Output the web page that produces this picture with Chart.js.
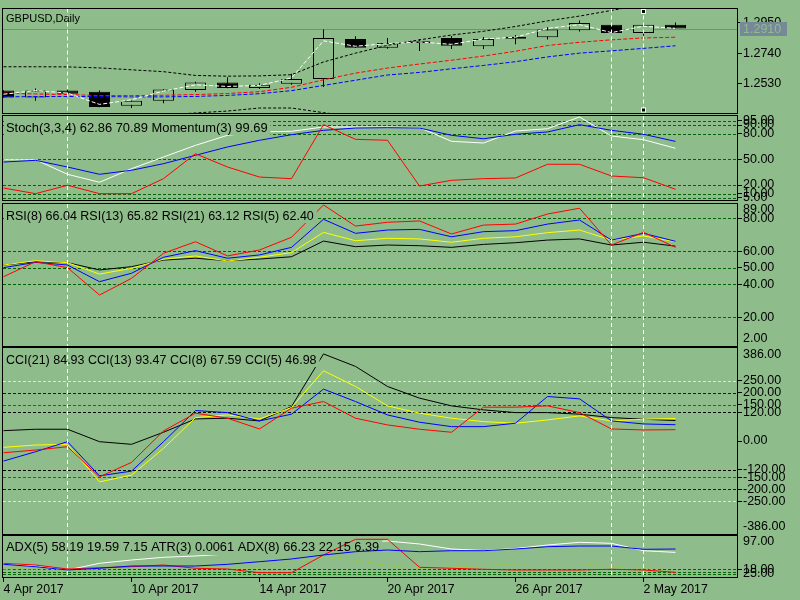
<!DOCTYPE html>
<html>
<head>
<meta charset="utf-8">
<script src="https://cdn.jsdelivr.net/npm/chart.js@4.4.1/dist/chart.umd.min.js"></script>
<style>
html,body{margin:0;padding:0;width:800px;height:600px;overflow:hidden;background:rgb(143,188,139);}
canvas{position:absolute;left:0;top:0;}
</style>
</head>
<body>
<canvas id="cPrice" width="800" height="600"></canvas>
<canvas id="cStoch" width="800" height="600"></canvas>
<canvas id="cRsi" width="800" height="600"></canvas>
<canvas id="cCci" width="800" height="600"></canvas>
<canvas id="cAdx" width="800" height="600"></canvas>
<script>
// ---------------- DATA ----------------
const dateLabels = ['4 Apr 2017','5 Apr 2017','6 Apr 2017','7 Apr 2017','10 Apr 2017','11 Apr 2017','12 Apr 2017','13 Apr 2017','14 Apr 2017','17 Apr 2017','18 Apr 2017','19 Apr 2017','20 Apr 2017','21 Apr 2017','24 Apr 2017','25 Apr 2017','26 Apr 2017','27 Apr 2017','28 Apr 2017','1 May 2017','2 May 2017','3 May 2017'];
const xTickIdx = [0,4,8,12,16,20];
const vlineIdx = [2,19,20];

const open  = [1.2482,1.2434,1.2482,1.2473,1.2377,1.2412,1.2486,1.2537,1.2499,1.2528,1.2561,1.2838,1.2777,1.2810,1.2845,1.2788,1.2854,1.2850,1.2899,1.2937,1.2880,1.2937];
const high  = [1.2484,1.2495,1.2504,1.2482,1.2413,1.2490,1.2543,1.2574,1.2532,1.2598,1.2904,1.2856,1.2845,1.2838,1.2858,1.2852,1.2865,1.2919,1.2965,1.2948,1.2948,1.2952];
const low   = [1.2432,1.2412,1.2458,1.2366,1.2361,1.2394,1.2473,1.2497,1.2493,1.2521,1.2506,1.2775,1.2770,1.2755,1.2768,1.2768,1.2801,1.2834,1.2889,1.2875,1.2860,1.2906];
const close = [1.2434,1.2482,1.2460,1.2368,1.2412,1.2489,1.2537,1.2499,1.2521,1.2561,1.2845,1.2777,1.2810,1.2823,1.2791,1.2838,1.2840,1.2904,1.2948,1.2880,1.2937,1.2910];

const maWhite   = [1.2456,1.2482,1.2464,1.2386,1.2418,1.2478,1.2521,1.2510,1.2517,1.2569,1.2825,1.2788,1.2806,1.2817,1.2801,1.2838,1.2850,1.2911,1.2937,1.2882,1.2926,1.2911];
const bandUpper = [1.2646,1.2646,1.2645,1.2638,1.2625,1.2612,1.2586,1.2581,1.2583,1.2591,1.2679,1.2740,1.2794,1.2832,1.2865,1.2891,1.2924,1.2963,1.2996,1.3035,1.3075,1.3094];
const bandLower = [1.2290,1.2295,1.2300,1.2295,1.2300,1.2312,1.2327,1.2340,1.2361,1.2361,1.2329,1.2300,1.2285,1.2280,1.2282,1.2290,1.2295,1.2300,1.2305,1.2300,1.2295,1.2300];
const maRed     = [1.2464,1.2458,1.2454,1.2447,1.2447,1.2449,1.2454,1.2461,1.2474,1.2504,1.2556,1.2602,1.2637,1.2665,1.2691,1.2720,1.2753,1.2793,1.2815,1.2832,1.2845,1.2850];
const maBlue    = [1.2438,1.2440,1.2441,1.2440,1.2438,1.2438,1.2441,1.2448,1.2460,1.2481,1.2517,1.2553,1.2589,1.2607,1.2632,1.2655,1.2681,1.2714,1.2740,1.2756,1.2773,1.2791];
const priceTicks = [1.2530,1.2740,1.2950];

const stochMain   = [49.5,49.5,32.5,23.2,39.0,52.7,66.3,78.0,81.9,82.7,87.7,87.7,87.7,86.9,71.0,69.0,83.0,85.7,99.4,77.2,72.9,62.86];
const stochSignal = [46.8,48.8,41.0,32.5,37.2,44.9,54.7,64.4,72.2,78.7,83.8,86.5,86.9,86.5,78.0,74.0,79.2,81.9,90.4,83.8,79.2,70.89];
const momentum    = [16.5,9.9,19.7,9.9,9.9,27.4,56.5,41.0,29.3,27.4,90.4,73.3,72.2,18.8,25.5,27.4,28.2,44.2,44.2,30.5,28.5,15.0];
const stochLevels = [95,90,80,50,20,10,5];

const rsi8  = [50.1,53.3,51.7,41.6,46.7,56.4,60.4,55.8,57.8,62.4,79.4,70.9,72.9,73.3,68.8,71.9,72.5,76.5,79.0,66.8,70.9,66.04];
const rsi13 = [51.7,54.3,53.1,46.2,49.7,55.2,57.2,54.1,56.4,59.2,71.5,66.4,67.9,67.5,65.5,67.9,68.8,71.3,72.9,66.8,69.3,65.82];
const rsi21 = [51.7,53.7,53.1,48.7,50.7,54.7,55.8,54.3,55.3,56.7,66.2,62.8,63.8,63.4,62.4,64.2,65.2,66.8,67.5,63.8,65.5,63.12];
const rsi5  = [44.6,53.7,50.1,33.5,43.6,58.8,65.8,57.2,60.8,68.5,88.1,75.3,77.6,78.4,70.5,75.9,76.5,82.6,86.1,63.8,71.5,62.40];
const rsiLevels = [80,60,50,40,20];
const rsiEdge = ['89.00','2.00'];

const cci21 = [42.9,48.8,48.8,-2.9,-13.8,36.3,91.7,94.6,83.3,142.9,361.3,309.6,226.3,177.9,145.8,129.2,117.9,117.9,111.3,97.1,90.4,84.93];
const cci13 = [-26.3,-16.7,-13.8,-169.6,-141.7,-30.4,97.1,108.3,91.7,138.8,291.7,226.3,145.8,115.4,94.6,80.4,73.8,87.5,104.2,83.3,90.4,93.47];
const cci8  = [-83.3,-44.6,-2.9,-144.6,-125.0,-2.9,126.3,117.9,83.3,111.3,215.4,163.8,108.3,77.9,59.6,59.6,73.8,184.6,175.0,83.3,70.8,67.59];
const cci5  = [-48.8,-37.5,-23.8,-148.8,-88.8,41.7,115.4,94.6,50.0,136.3,163.8,94.6,66.7,48.8,36.3,140.4,140.4,145.8,117.9,50.0,45.8,46.98];
const cciTicks = [250,200,150,120,0,-120,-150,-200,-250];
const cciLevels = [250,200,150,120,-120,-150,-200,-250];
const cciLevelColors = ['#FFFF00','#0000FF','#FF0000','#000000','#000000','#FF0000','#0000FF','#FFFF00'];
const cciEdge = ['386.00','-386.00'];

const adx5Main = [32.4,26.0,16.6,32.4,40.2,46.6,49.7,54.4,61.5,68.6,75.7,82.8,85.2,78.1,66.2,62.7,67.4,75.7,82.1,79.7,62.2,58.19];
const adx8Main = [30.0,24.4,16.6,20.6,26.0,26.0,26.0,30.0,36.2,42.6,52.1,59.9,63.9,59.9,62.2,62.2,66.2,71.7,73.3,73.3,65.5,66.23];
const diRed    = [32.4,28.4,18.9,22.0,24.4,28.4,20.6,18.9,10.2,10.2,52.1,89.2,89.2,23.0,20.6,18.2,16.6,16.6,16.6,18.2,16.6,11.1];
const atr3     = [18.9,18.9,16.6,18.9,21.3,24.8,26.0,21.3,20.1,33.1,46.1,40.2,27.2,20.1,23.7,27.2,30.8,32.4,31.9,26.0,20.1,12.5];
const adxTicks = [18];
const adxLevels = [18,12,8];
const adxEdge = ['97.00','25.00'];

// ---------------- STYLE / LAYOUT ----------------
const BG = 'rgb(143,188,139)';
const LEVEL = '#006400';
const AXIS_FONT = '12.5px "Liberation Sans"';
Chart.defaults.font.family = 'Liberation Sans';
const BAR_PX = 32;
const X_MIN = -0.5 / BAR_PX, X_MAX = X_MIN + 734 / BAR_PX;

function pts(a){ return a.map((v,i)=>({x:i, y:v})); }
function line(data, color, order, dash){
  return {type:'line', data:pts(data), borderColor:color, borderWidth:1, pointRadius:0, tension:0,
          fill:false, order:order, borderDash:dash||[], clip:0};
}

function drawCover(chart, p){
  const {ctx, chartArea:a} = chart;
  ctx.save();
  ctx.font = p.labelFont;
  const w = ctx.measureText(p.label).width;
  ctx.fillStyle = BG;
  ctx.fillRect(a.left + 1, a.top + 3, w + 5, 16);
  ctx.restore();
}

function makePlugin(p){
  return {
    id: 'mt_' + p.name,
    beforeDatasetsDraw(chart){
      const {ctx, chartArea:a, scales:{y}} = chart;
      ctx.save();
      ctx.lineWidth = 1;
      (p.levels||[]).forEach(l=>{
        const py = Math.round(y.getPixelForValue(l.v)) + 0.5;
        ctx.strokeStyle = l.c; ctx.setLineDash([3,2]);
        ctx.beginPath(); ctx.moveTo(a.left, py); ctx.lineTo(a.right, py); ctx.stroke();
      });
      if (p.bid != null){
        const py = Math.round(y.getPixelForValue(p.bid)) + 0.5;
        ctx.setLineDash([]); ctx.strokeStyle = '#778899';
        ctx.beginPath(); ctx.moveTo(a.left, py); ctx.lineTo(a.right, py); ctx.stroke();
      }
      ctx.restore();
    },
    afterDatasetDraw(chart, args){
      if (p.cover && p.coverAfter === args.index) drawCover(chart, p);
    },
    afterDatasetsDraw(chart){
      const {ctx, chartArea:a, scales:{x,y}} = chart;
      if (p.cover && p.coverAfter == null) drawCover(chart, p);
      ctx.save();
      ctx.strokeStyle = '#FFFFFF'; ctx.lineWidth = 1; ctx.setLineDash([4,3]);
      vlineIdx.forEach(i=>{
        const px = Math.round(x.getPixelForValue(i) - 0.5) + 0.5;
        ctx.beginPath(); ctx.moveTo(px, a.top); ctx.lineTo(px, a.bottom); ctx.stroke();
      });
      ctx.setLineDash([]);
      ctx.strokeStyle = '#000';
      const L = Math.round(a.left), R = Math.round(a.right), T = Math.round(a.top), B = Math.round(a.bottom);
      ctx.strokeRect(L - 0.5, T - 0.5, R - L + 1, B - T + 1);
      ctx.fillStyle = '#000';
      ctx.font = p.labelFont;
      ctx.textBaseline = 'alphabetic';
      ctx.textAlign = 'left';
      ctx.fillText(p.label, a.left + 3, a.top + p.labelBase);
      ctx.font = AXIS_FONT;
      ctx.textBaseline = 'middle';
      (p.edges||[]).forEach(e=>{
        const py = e.at === 'top' ? a.top + e.off : a.bottom + e.off;
        ctx.fillText(e.t, a.right + 6, py);
      });
      if (p.bid != null){
        const py = Math.round(y.getPixelForValue(p.bid));
        ctx.fillStyle = '#778899';
        ctx.fillRect(a.right + 3, py - 7, 47, 14);
        ctx.fillStyle = BG;
        ctx.fillText(p.bid.toFixed(4), a.right + 6, py + 0.5);
      }
      if (p.handles){
        const px = Math.round(x.getPixelForValue(vlineIdx[vlineIdx.length-1]) - 0.5) + 0.5;
        [a.top + 3, a.bottom - 3].forEach(hy=>{
          ctx.fillStyle = '#FFF'; ctx.fillRect(px - 2.5, hy - 2.5, 5, 5);
          ctx.fillStyle = '#000'; ctx.fillRect(px - 1.5, hy - 1.5, 3, 3);
        });
      }
      ctx.restore();
    }
  };
}

function panelChart(id, p){
  const showX = !!p.showX;
  return new Chart(document.getElementById(id), {
    type: p.type || 'line',
    data: {datasets: p.datasets},
    options: {
      responsive:false, maintainAspectRatio:false, animation:false, devicePixelRatio:1, events:[],
      layout:{padding:{left:3, right:0, top:p.top, bottom: showX ? 600 - p.bottom - 20 : 600 - p.bottom}},
      plugins:{legend:{display:false}, tooltip:{enabled:false}, title:{display:false}},
      scales:{
        x:{type:'linear', min:X_MIN, max:X_MAX, offset:false, display:showX, position:'bottom',
           afterBuildTicks: s=>{ s.ticks = xTickIdx.map(v=>({value:v})); },
           ticks:{autoSkip:false, maxRotation:0, minRotation:0, align:'start', padding:0, color:'#000',
                  font:{size:12.3}, callback:(v)=>dateLabels[Math.round(v)]},
           grid:{offset:false, drawOnChartArea:false, drawTicks:true, tickLength:5, color:'#000'},
           border:{display:false},
           afterFit: s=>{ if (showX) s.height = 20; }
        },
        y:{type:'linear', position:'right', min:p.yMin, max:p.yMax, beginAtZero:false,
           afterBuildTicks: s=>{ s.ticks = p.yTicks.map(v=>({value:v})); },
           ticks:{autoSkip:false, padding:1, color:'#000', font:{size:12.5}, callback:v=>Number(v).toFixed(p.dec)},
           grid:{drawOnChartArea:false, drawTicks:true, tickLength:5, color:'#000'},
           border:{display:false},
           afterFit: s=>{ s.width = 63; }
        }
      }
    },
    plugins:[makePlugin(p)]
  });
}

// ---- price panel ----
panelChart('cPrice', {
  name:'price', type:'bar', top:3, bottom:113, yMin:1.23266, yMax:1.30484, yTicks:priceTicks, dec:4,
  label:'GBPUSD,Daily', labelFont:'11px "Liberation Sans"', labelBase:13.5, cover:false,
  bid: close[close.length-1], handles:true,
  datasets:[
    {type:'bar', data: close.map((c,i)=>({x:i, y:[low[i], high[i]]})), backgroundColor:'#000', borderWidth:0,
     grouped:false, maxBarThickness:1, inflateAmount:0, order:6, clip:0},
    {type:'bar', data: close.map((c,i)=>({x:i, y:[open[i], c]})),
     backgroundColor: ctx => (ctx.dataIndex != null && close[ctx.dataIndex] >= open[ctx.dataIndex]) ? BG : '#000',
     borderColor:'#000', borderWidth:1, borderSkipped:false, grouped:false, maxBarThickness:21, inflateAmount:0, order:5, clip:0},
    line(maBlue, '#0000FF', 4, [4,2]),
    line(maRed, '#FF0000', 3, [4,2]),
    line(bandLower, '#000000', 2, [3,2]),
    line(bandUpper, '#000000', 2, [3,2]),
    line(maWhite, '#FFFFFF', 1, [4,2])
  ]
});

// ---- stochastic / momentum ----
panelChart('cStoch', {
  name:'stoch', top:116, bottom:200, yMin:2.51, yMax:100.53, yTicks:stochLevels, dec:2,
  label:'Stoch(3,3,4) 62.86 70.89 Momentum(3) 99.69', labelFont:'12.9px "Liberation Sans"', labelBase:16, cover:true,
  levels: stochLevels.map(v=>({v, c:LEVEL})),
  datasets:[
    line(stochMain, '#FFFFFF', 3),
    line(stochSignal, '#0000FF', 2),
    line(momentum, '#FF0000', 1)
  ]
});

// ---- RSI ----
panelChart('cRsi', {
  name:'rsi', top:204, bottom:346, yMin:2.61, yMax:88.67, yTicks:rsiLevels, dec:2,
  label:'RSI(8) 66.04 RSI(13) 65.82 RSI(21) 63.12 RSI(5) 62.40', labelFont:'12.5px "Liberation Sans"', labelBase:15.5, cover:true,
  levels: rsiLevels.map(v=>({v, c:LEVEL})),
  edges:[{t:rsiEdge[0], at:'top', off:6}, {t:rsiEdge[1], at:'bottom', off:-7}],
  datasets:[
    line(rsi21, '#000000', 4),
    line(rsi13, '#FFFF00', 3),
    line(rsi8, '#0000FF', 2),
    line(rsi5, '#FF0000', 1)
  ]
});

// ---- CCI ----
panelChart('cCci', {
  name:'cci', top:348, bottom:534, yMin:-386, yMax:386, yTicks:cciTicks, dec:2,
  label:'CCI(21) 84.93 CCI(13) 93.47 CCI(8) 67.59 CCI(5) 46.98', labelFont:'12.5px "Liberation Sans"', labelBase:15.5, cover:true,
  levels: cciLevels.map((v,i)=>({v, c:cciLevelColors[i]})),
  edges:[{t:cciEdge[0], at:'top', off:7}, {t:cciEdge[1], at:'bottom', off:-7}],
  datasets:[
    line(cci21, '#000000', 4),
    line(cci13, '#FFFF00', 3),
    line(cci8, '#0000FF', 2),
    line(cci5, '#FF0000', 1)
  ]
});

// ---- ADX / ATR ----
panelChart('cAdx', {
  name:'adx', top:536, bottom:577, yMin:0, yMax:97, yTicks:adxTicks, dec:2, showX:true,
  label:'ADX(5) 58.19 19.59 7.15 ATR(3) 0.0061 ADX(8) 66.23 22.15 6.39', labelFont:'12.8px "Liberation Sans"', labelBase:15, cover:true, coverAfter:0,
  levels: adxLevels.map(v=>({v, c:LEVEL})),
  edges:[{t:adxEdge[0], at:'top', off:6}, {t:adxEdge[1], at:'bottom', off:-3}],
  datasets:[
    line(adx5Main, '#FFFFFF', 4),
    line(atr3, '#9ACD32', 3, [3,3]),
    line(diRed, '#FF0000', 2),
    line(adx8Main, '#0000FF', 1)
  ]
});
</script>
</body>
</html>
